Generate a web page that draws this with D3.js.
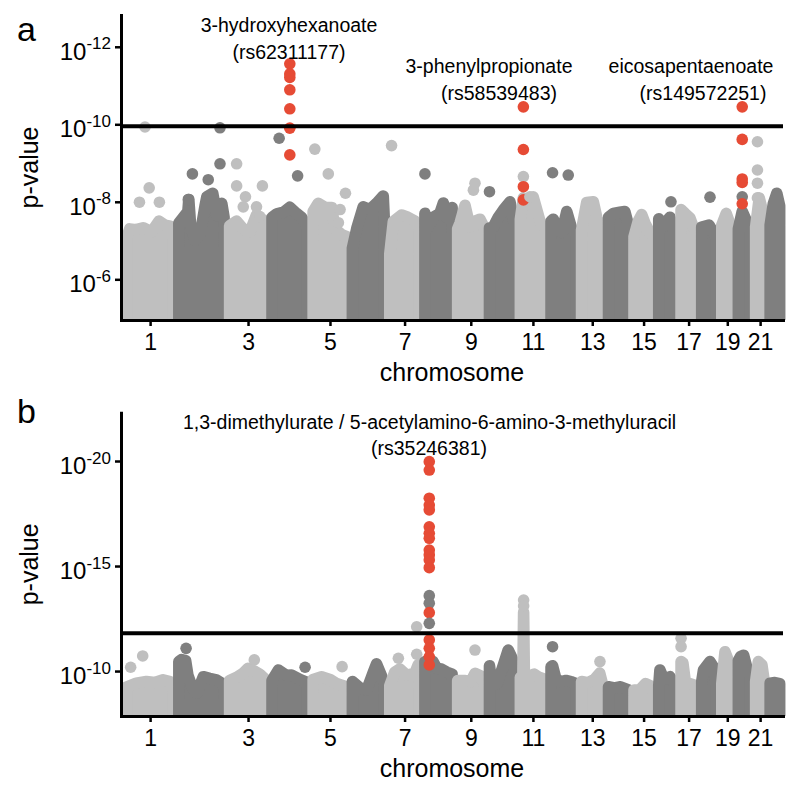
<!DOCTYPE html>
<html><head><meta charset="utf-8">
<script src="https://cdn.jsdelivr.net/npm/d3@7"></script>
<style>
body{margin:0;background:#fff}
text{font-family:"Liberation Sans",Arial,Helvetica,sans-serif;fill:#000}
</style>
</head><body>
<svg id="chart" width="800" height="794"></svg>
<script>
// ---------------- DATA ----------------
const chromosomes = ["1","2","3","4","5","6","7","8","9","10","11","12","13","14","15","16","17","18","19","20","21","22"];
const chromLengthMb = [249,243,198,191,181,171,159,146,141,136,135,134,115,107,103,90,81,78,59,63,48,51];
const chromGapMb = 30;
const xTickChromosomes = ["1","3","5","7","9","11","13","15","17","19","21"];

// y ticks as -log10(p)
const yTicksA = [6, 8, 10, 12];
const yTicksB = [10, 15, 20];
const thresholdA = 9.95;   // -log10 p
const thresholdB = 11.8;

// dense "bulk" of SNPs per chromosome: upper envelope [position fraction within chromosome, -log10 p]
const bulkA = [
 [[0,7.1],[.06,7.3],[.2,7.28],[.35,7.33],[.53,7.22],[.69,7.5],[.82,7.4],[.93,7.37],[1,7.25]],
 [[0,7.45],[.1,7.6],[.2,7.75],[.22,8.06],[.26,7.4],[.36,7.0],[.47,7.15],[.58,7.9],[.62,8.13],[.75,8.22],[.84,7.65],[.95,7.96],[1,7.6]],
 [[0,7.38],[.19,7.5],[.37,7.3],[.55,7.22],[.73,7.66],[.91,7.53],[1,7.4]],
 [[0,7.6],[.13,7.69],[.32,7.73],[.5,7.86],[.69,7.7],[.83,7.6],[1,7.35]],
 [[0,7.75],[.15,7.96],[.35,7.86],[.55,7.85],[.65,7.3],[.85,7.15],[1,7.1]],
 [[0,6.8],[.14,7.32],[.34,7.87],[.55,7.8],[.76,7.96],[.97,8.15],[1,7.6]],
 [[0,6.65],[.12,7.49],[.4,7.66],[.61,7.6],[.85,7.5],[1,7.35]],
 [[0,7.7],[.12,7.35],[.31,7.6],[.55,7.7],[.68,7.97],[.8,7.6],[1,7.85]],
 [[0,7.3],[.09,7.45],[.28,7.91],[.47,7.35],[.66,7.5],[.85,7.55],[1,7.35]],
 [[0,7.32],[.15,7.35],[.35,7.6],[.55,7.79],[.81,8.0],[1,7.35]],
 [[0,7.55],[.12,8.1],[.31,8.0],[.51,8.13],[.78,7.5],[1,7.3]],
 [[0,7.5],[.09,7.55],[.22,7.35],[.43,7.2],[.63,7.75],[.83,7.3],[1,7.2]],
 [[0,7.27],[.24,7.98],[.55,8.0],[.71,7.6],[1,7.05]],
 [[0,7.6],[.24,7.7],[.57,7.73],[.82,7.75],[1,7.4]],
 [[0,7.1],[.22,7.5],[.4,7.67],[.57,7.45],[.83,7.2],[1,7.15]],
 [[0,7.56],[.18,7.35],[.67,7.6],[.87,7.25],[1,7.3]],
 [[0,7.8],[.26,7.7],[.59,7.58],[.81,7.35],[1,7.3]],
 [[0,7.35],[.5,7.4],[.9,7.15],[1,7.1]],
 [[0,7.4],[.4,7.7],[.9,7.3],[1,7.25]],
 [[0,7.3],[.33,7.75],[.85,7.4],[1,7.3]],
 [[0,7.35],[.4,8.1],[1,7.55]],
 [[0,7.4],[.33,7.95],[.7,8.22],[1,7.9]]
];
// individual SNPs above the bulk: [chromosome, position fraction, -log10 p, lead SNP (1) or not (0)]
const outliersA = [
 [1,.39,9.93,0],[1,.27,7.99,0],[1,.48,8.36,0],[1,.70,7.99,0],
 [2,.91,9.91,0],[2,.91,8.98,0],[2,.30,8.72,0],[2,.65,8.57,0],[2,.21,8.06,0],
 [3,.19,8.98,0],[3,.19,8.41,0],[3,.43,8.13,0],[3,.37,7.87,0],[3,.73,7.87,0],[3,.89,8.41,0],[3,.82,7.62,0],
 [4,.20,9.64,0],[4,.72,8.67,0],
 [4,.5,11.56,1],[4,.5,11.3,1],[4,.5,11.21,1],[4,.5,10.89,1],[4,.5,10.4,1],[4,.5,9.9,1],[4,.5,9.21,1],
 [5,.05,9.36,0],[5,.45,8.72,0],[5,.96,8.22,0],[5,.8,7.8,0],[5,.75,7.46,0],
 [7,.06,9.45,0],
 [8,0,8.72,0],
 [9,.66,8.48,0],[9,.6,8.3,0],
 [10,0,8.26,0],
 [11,.12,10.45,1],[11,.12,9.35,1],[11,.12,8.65,0],[11,.12,8.39,1],[11,.12,8.05,1],[11,.38,8.13,0],
 [12,.06,8.75,0],[12,.69,8.69,0],
 [16,.73,8.0,0],
 [18,.57,8.12,0],
 [20,.33,10.45,1],[20,.33,9.61,1],[20,.33,8.59,1],[20,.33,8.5,1],[20,.33,8.13,0],[20,.33,7.95,1],
 [21,.2,9.55,0],[21,.2,8.82,0],[21,.2,8.48,0],[21,.2,8.1,0]
];

const bulkB = [
 [[0,9.25],[.2,9.42],[.42,9.5],[.6,9.45],[.78,9.58],[.93,9.5],[1,9.3]],
 [[0,10.45],[.06,10.55],[.15,10.5],[.2,9.8],[.3,9.2],[.4,8.95],[.54,9.73],[.68,9.65],[.83,9.58],[1,9.35]],
 [[0,9.55],[.19,9.7],[.37,9.9],[.5,10.13],[.67,10.0],[.82,9.85],[1,9.55]],
 [[0,9.55],[.18,10.05],[.4,9.8],[.55,9.81],[.78,9.6],[1,9.45]],
 [[0,9.6],[.25,9.73],[.5,9.6],[.7,9.4],[.9,9.3],[1,9.2]],
 [[0,9.5],[.24,9.2],[.45,9.1],[.66,9.95],[.76,10.34],[.92,9.75],[1,9.4]],
 [[0,9.3],[.17,9.95],[.34,10.1],[.57,9.8],[.85,9.9],[.96,10.3],[1,10.2]],
 [[0,10.45],[.16,10.55],[.3,10.45],[.43,10.13],[.6,10.1],[.8,9.95],[1,9.85]],
 [[0,9.55],[.25,9.55],[.5,9.5],[.66,9.89],[.9,9.75],[1,9.45]],
 [[0,10.25],[.08,9.5],[.3,9.4],[.5,10.1],[.74,11.0],[.9,10.6],[1,9.9]],
 [[0,9.7],[.1,9.8],[.13,12.8],[.16,9.8],[.35,9.75],[.55,9.85],[.75,9.7],[1,9.6]],
 [[0,10.2],[.06,10.25],[.2,9.6],[.4,9.5],[.6,9.55],[.8,9.5],[1,9.4]],
 [[0,9.5],[.3,9.45],[.6,9.6],[.85,9.9],[1,9.3]],
 [[0,9.25],[.3,9.2],[.6,9.25],[1,9.1]],
 [[0,9.1],[.3,9.1],[.6,9.4],[.85,9.3],[1,9.1]],
 [[0,9.3],[.07,10.05],[.3,9.6],[.67,9.73],[1,9.3]],
 [[0,10.45],[.12,10.4],[.3,9.4],[.6,9.4],[1,9.3]],
 [[0,9.5],[.12,10.05],[.57,10.45],[.8,10.2],[1,9.4]],
 [[0,9.4],[.29,10.92],[.6,10.5],[1,9.3]],
 [[0,10.5],[.2,10.7],[.45,10.75],[.8,10.0],[1,9.8]],
 [[0,9.5],[.3,10.45],[.7,10.3],[1,9.4]],
 [[0,9.42],[.5,9.45],[1,9.4]]
];
const outliersB = [
 [1,.08,10.18,0],[1,.34,10.72,0],
 [2,.16,11.08,0],
 [3,.67,10.53,0],
 [4,.93,10.18,0],
 [5,.86,10.21,0],
 [7,.29,10.61,0],[7,.91,10.8,0],[7,.91,12.11,0],
 [8,.16,19.97,1],[8,.16,19.57,1],[8,.16,18.23,1],[8,.16,17.9,1],[8,.16,17.67,1],[8,.16,16.87,1],[8,.16,16.56,1],[8,.16,16.32,1],
 [8,.16,15.76,1],[8,.16,15.53,1],[8,.16,15.29,1],[8,.16,14.92,1],
 [8,.16,13.59,0],[8,.16,13.23,0],[8,.16,12.78,1],[8,.16,12.27,0],
 [8,.16,11.48,1],[8,.16,11.08,1],[8,.16,10.68,1],[8,.16,10.29,1],
 [9,.66,11.0,0],
 [11,.13,13.38,0],[11,.13,13.1,0],
 [12,.06,11.16,0],
 [13,.86,10.45,0],
 [17,0,11.56,0],[17,0,11.16,0]
];

const annotationsA = [["3-hydroxyhexanoate","(rs62311177)"],["3-phenylpropionate","(rs58539483)"],["eicosapentaenoate","(rs149572251)"]];
const annotationsB = [["1,3-dimethylurate / 5-acetylamino-6-amino-3-methyluracil","(rs35246381)"]];

// ---------------- DRAWING ----------------
const COL_LIGHT = "#bfbfbf", COL_DARK = "#7f7f7f", COL_LEAD = "#e64b35";
const R = 5.8;
const FONT = '"Liberation Sans",Arial,Helvetica,sans-serif';
const svg = d3.select("#chart");

const starts = []; let acc = 0;
chromLengthMb.forEach(L => { starts.push(acc); acc += L + chromGapMb; });
const totalMb = acc - chromGapMb;
const x = d3.scaleLinear().domain([-32, totalMb + 18]).range([121, 783]);
const pos = (c, f) => x(starts[c - 1] + f * chromLengthMb[c - 1]);
const tickMid = xTickChromosomes.map(c => { const i = chromosomes.indexOf(c); return starts[i] + chromLengthMb[i] / 2; });

function drawPanel(cfg) {
  const y = d3.scaleLinear().domain(cfg.yDomain).range([cfg.bottom, cfg.top]);
  const g = svg.append("g");
  const clipId = "clip" + cfg.letter;
  svg.append("defs").append("clipPath").attr("id", clipId)
    .append("rect").attr("x", 0).attr("y", 0).attr("width", 800).attr("height", cfg.bottom);
  const data = g.append("g").attr("clip-path", `url(#${clipId})`);
  const line = d3.line();
  chromosomes.forEach((c, i) => {
    const col = i % 2 === 0 ? COL_LIGHT : COL_DARK;
    const ci = i + 1;
    const env = cfg.bulk[i];
    const pts = [[pos(ci, env[0][0]), cfg.bottom + 20]]
      .concat(env.map(d => [pos(ci, d[0]), y(d[1])]))
      .concat([[pos(ci, env[env.length - 1][0]), cfg.bottom + 20]]);
    data.append("path").attr("d", line(pts) + "Z")
      .attr("fill", col).attr("stroke", col).attr("stroke-width", 2 * R)
      .attr("stroke-linejoin", "round").attr("stroke-linecap", "round");
    data.selectAll(null).data(cfg.outliers.filter(o => o[0] === ci)).enter()
      .append("circle")
      .attr("cx", d => pos(d[0], d[1])).attr("cy", d => y(d[2])).attr("r", R)
      .attr("fill", d => d[3] ? COL_LEAD : col);
  });

  // threshold
  g.append("line").attr("x1", x.range()[0]).attr("x2", x.range()[1])
    .attr("y1", y(cfg.threshold)).attr("y2", y(cfg.threshold))
    .attr("stroke", "#000").attr("stroke-width", 4);

  // x axis
  const xa = g.append("g").attr("transform", `translate(0,${cfg.bottom})`)
    .call(d3.axisBottom(x).tickValues(tickMid).tickSize(6).tickSizeOuter(0).tickPadding(8)
      .tickFormat((d, i) => xTickChromosomes[i]));
  xa.select(".domain").attr("stroke-width", 3).attr("stroke-linecap", "square");
  xa.selectAll(".tick line").attr("stroke-width", 2.5);
  xa.selectAll(".tick text").attr("font-size", 23).attr("font-family", FONT).attr("fill", "#000");

  // y axis
  const ya = g.append("g").attr("transform", `translate(${x.range()[0]},0)`)
    .call(d3.axisLeft(y).tickValues(cfg.yTicks).tickSize(6).tickSizeOuter(0).tickFormat(""));
  ya.select(".domain").attr("stroke-width", 3).attr("stroke-linecap", "square");
  ya.selectAll(".tick line").attr("stroke-width", 2.5);
  ya.selectAll(".tick text").remove();
  cfg.yTicks.forEach(t => {
    const tx = g.append("text").attr("x", 111).attr("y", y(t) + 13)
      .attr("text-anchor", "end").attr("font-size", 24);
    tx.append("tspan").text("10");
    tx.append("tspan").attr("font-size", 17).attr("dy", -10.5).text("-" + t);
  });

  // axis titles
  g.append("text").attr("x", (x.range()[0] + x.range()[1]) / 2).attr("y", cfg.bottom + 61)
    .attr("text-anchor", "middle").attr("font-size", 25).text("chromosome");
  g.append("text").attr("transform", `translate(38,${(cfg.top + cfg.bottom) / 2}) rotate(-90)`)
    .attr("text-anchor", "middle").attr("font-size", 25).text("p-value");
  g.append("text").attr("x", 17).attr("y", cfg.letterY).attr("font-size", 34).text(cfg.letter);

  // annotations
  cfg.annotations.forEach((lines, k) => {
    lines.forEach((s, j) => {
      g.append("text").attr("x", cfg.annotLayout[k].cx[j]).attr("y", cfg.annotLayout[k].y[j])
        .attr("text-anchor", "middle").attr("font-size", 19.5).text(s);
    });
  });
}

drawPanel({
  letter: "a", letterY: 41, top: 15, bottom: 320, yDomain: [4.95, 12.82],
  yTicks: yTicksA, threshold: thresholdA, bulk: bulkA, outliers: outliersA,
  annotations: annotationsA,
  annotLayout: [{cx:[289,289], y:[32,59]}, {cx:[489,499], y:[73,100]}, {cx:[691,703], y:[73,100]}]
});
drawPanel({
  letter: "b", letterY: 423, top: 412.7, bottom: 716, yDomain: [7.86, 22.3],
  yTicks: yTicksB, threshold: thresholdB, bulk: bulkB, outliers: outliersB,
  annotations: annotationsB,
  annotLayout: [{cx:[429.5,429], y:[429,455]}]
});
</script>
</body></html>
